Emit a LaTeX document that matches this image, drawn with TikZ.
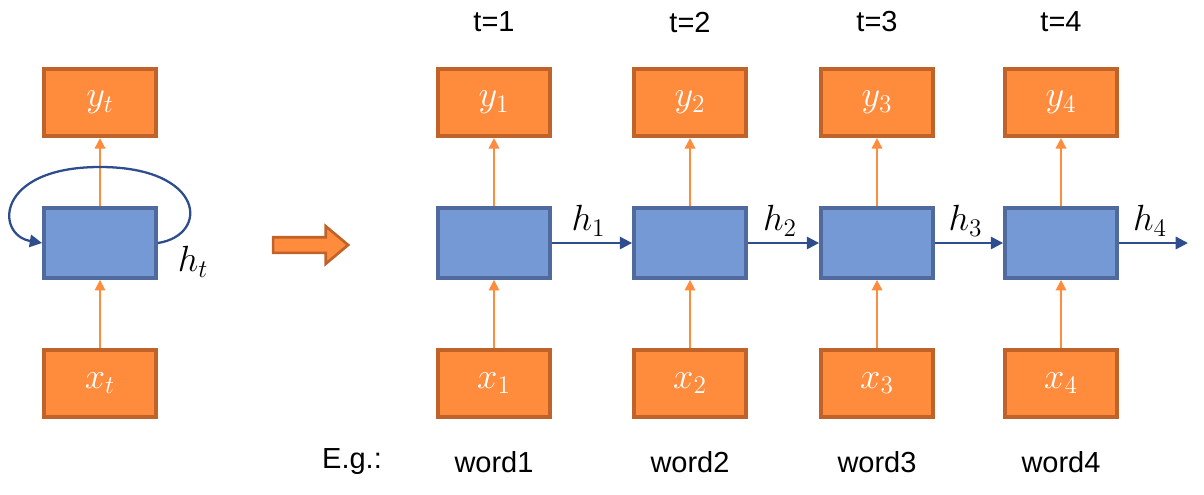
\documentclass[tikz,border=0pt]{standalone}
\usepackage{fontspec}
\setmainfont{Liberation Sans}
\usepackage{amsmath}
\usetikzlibrary{arrows.meta,positioning,shapes.arrows}
\definecolor{boxorange}{HTML}{FF8B3D}
\definecolor{edgeorange}{HTML}{C0632B}
\definecolor{cellblue}{HTML}{7499D5}
\definecolor{edgeblue}{HTML}{506A9E}
\definecolor{linkblue}{HTML}{2E4D8C}

\begin{document}
\begin{tikzpicture}[x=0.02cm,y=-0.02cm,node distance=1.36cm,
 io/.style={draw=edgeorange,line width=2.2pt,fill=boxorange,minimum width=2.24cm,
 minimum height=1.34cm,text=white,font=\fontsize{22}{24}\selectfont},
 cell/.style={draw=edgeblue,line width=2.2pt,fill=cellblue,minimum width=2.24cm,
 minimum height=1.4cm},
 feed/.style={draw=boxorange,line width=1pt,-{Triangle[length=6pt,width=6pt]}},
 pass/.style={draw=linkblue,line width=1.3pt,-{Triangle[length=7pt,width=7pt]}},
 hlabel/.style={font=\fontsize{21}{23}\selectfont},
 caption/.style={font=\fontsize{16.5}{18}\selectfont}]
 \useasboundingbox (0,0) rectangle (1204,494);
 % folded network
 \node[cell] (c0) at (100,243) {};
 \node[io,above=of c0] (y0) {$y_t$};
 \node[io,below=of c0] (x0) {$x_t$};
 \draw[feed] (c0) -- (y0);
 \draw[feed] (x0) -- (c0);
 \draw[pass] (c0.east) .. controls (210,235) and (205,167) .. (100,167)
  .. controls (-5,167) and (-5,235) .. (c0.west);
 \node[hlabel] (ht) at (193,262) {$h_t$};
 % unroll arrow
 \node[single arrow,draw=edgeorange,line width=1.5pt,fill=boxorange,inner sep=0.13cm,
  minimum height=1.5cm,single arrow head extend=0.22cm,single arrow tip angle=80] (unroll) at (306,245) {};
 % unrolled network
 \node[caption] (eg) at (352,462) {E.g.:};
 \foreach \i/\px in {1/494,2/690,3/877,4/1061}{
  \node[cell] (c\i) at (\px,243) {};
  \node[io,above=of c\i] (y\i) {$y_\i$};
  \node[io,below=of c\i] (x\i) {$x_\i$};
  \draw[feed] (c\i) -- (y\i);
  \draw[feed] (x\i) -- (c\i);
  \node[caption] (t\i) at (\px,22) {t=\i};
  \node[caption] (w\i) at (\px,462) {word\i};
 }
 \coordinate (hend) at (1188,243);
 \draw[pass] (c1) -- node[hlabel,above,xshift=-2pt] (h1) {$h_1$} (c2);
 \draw[pass] (c2) -- node[hlabel,above,xshift=-2pt] (h2) {$h_2$} (c3);
 \draw[pass] (c3) -- node[hlabel,above,xshift=-2pt] (h3) {$h_3$} (c4);
 \draw[pass] (c4) -- node[hlabel,above,xshift=-2pt] (h4) {$h_4$} (hend);
\end{tikzpicture}
\end{document}
